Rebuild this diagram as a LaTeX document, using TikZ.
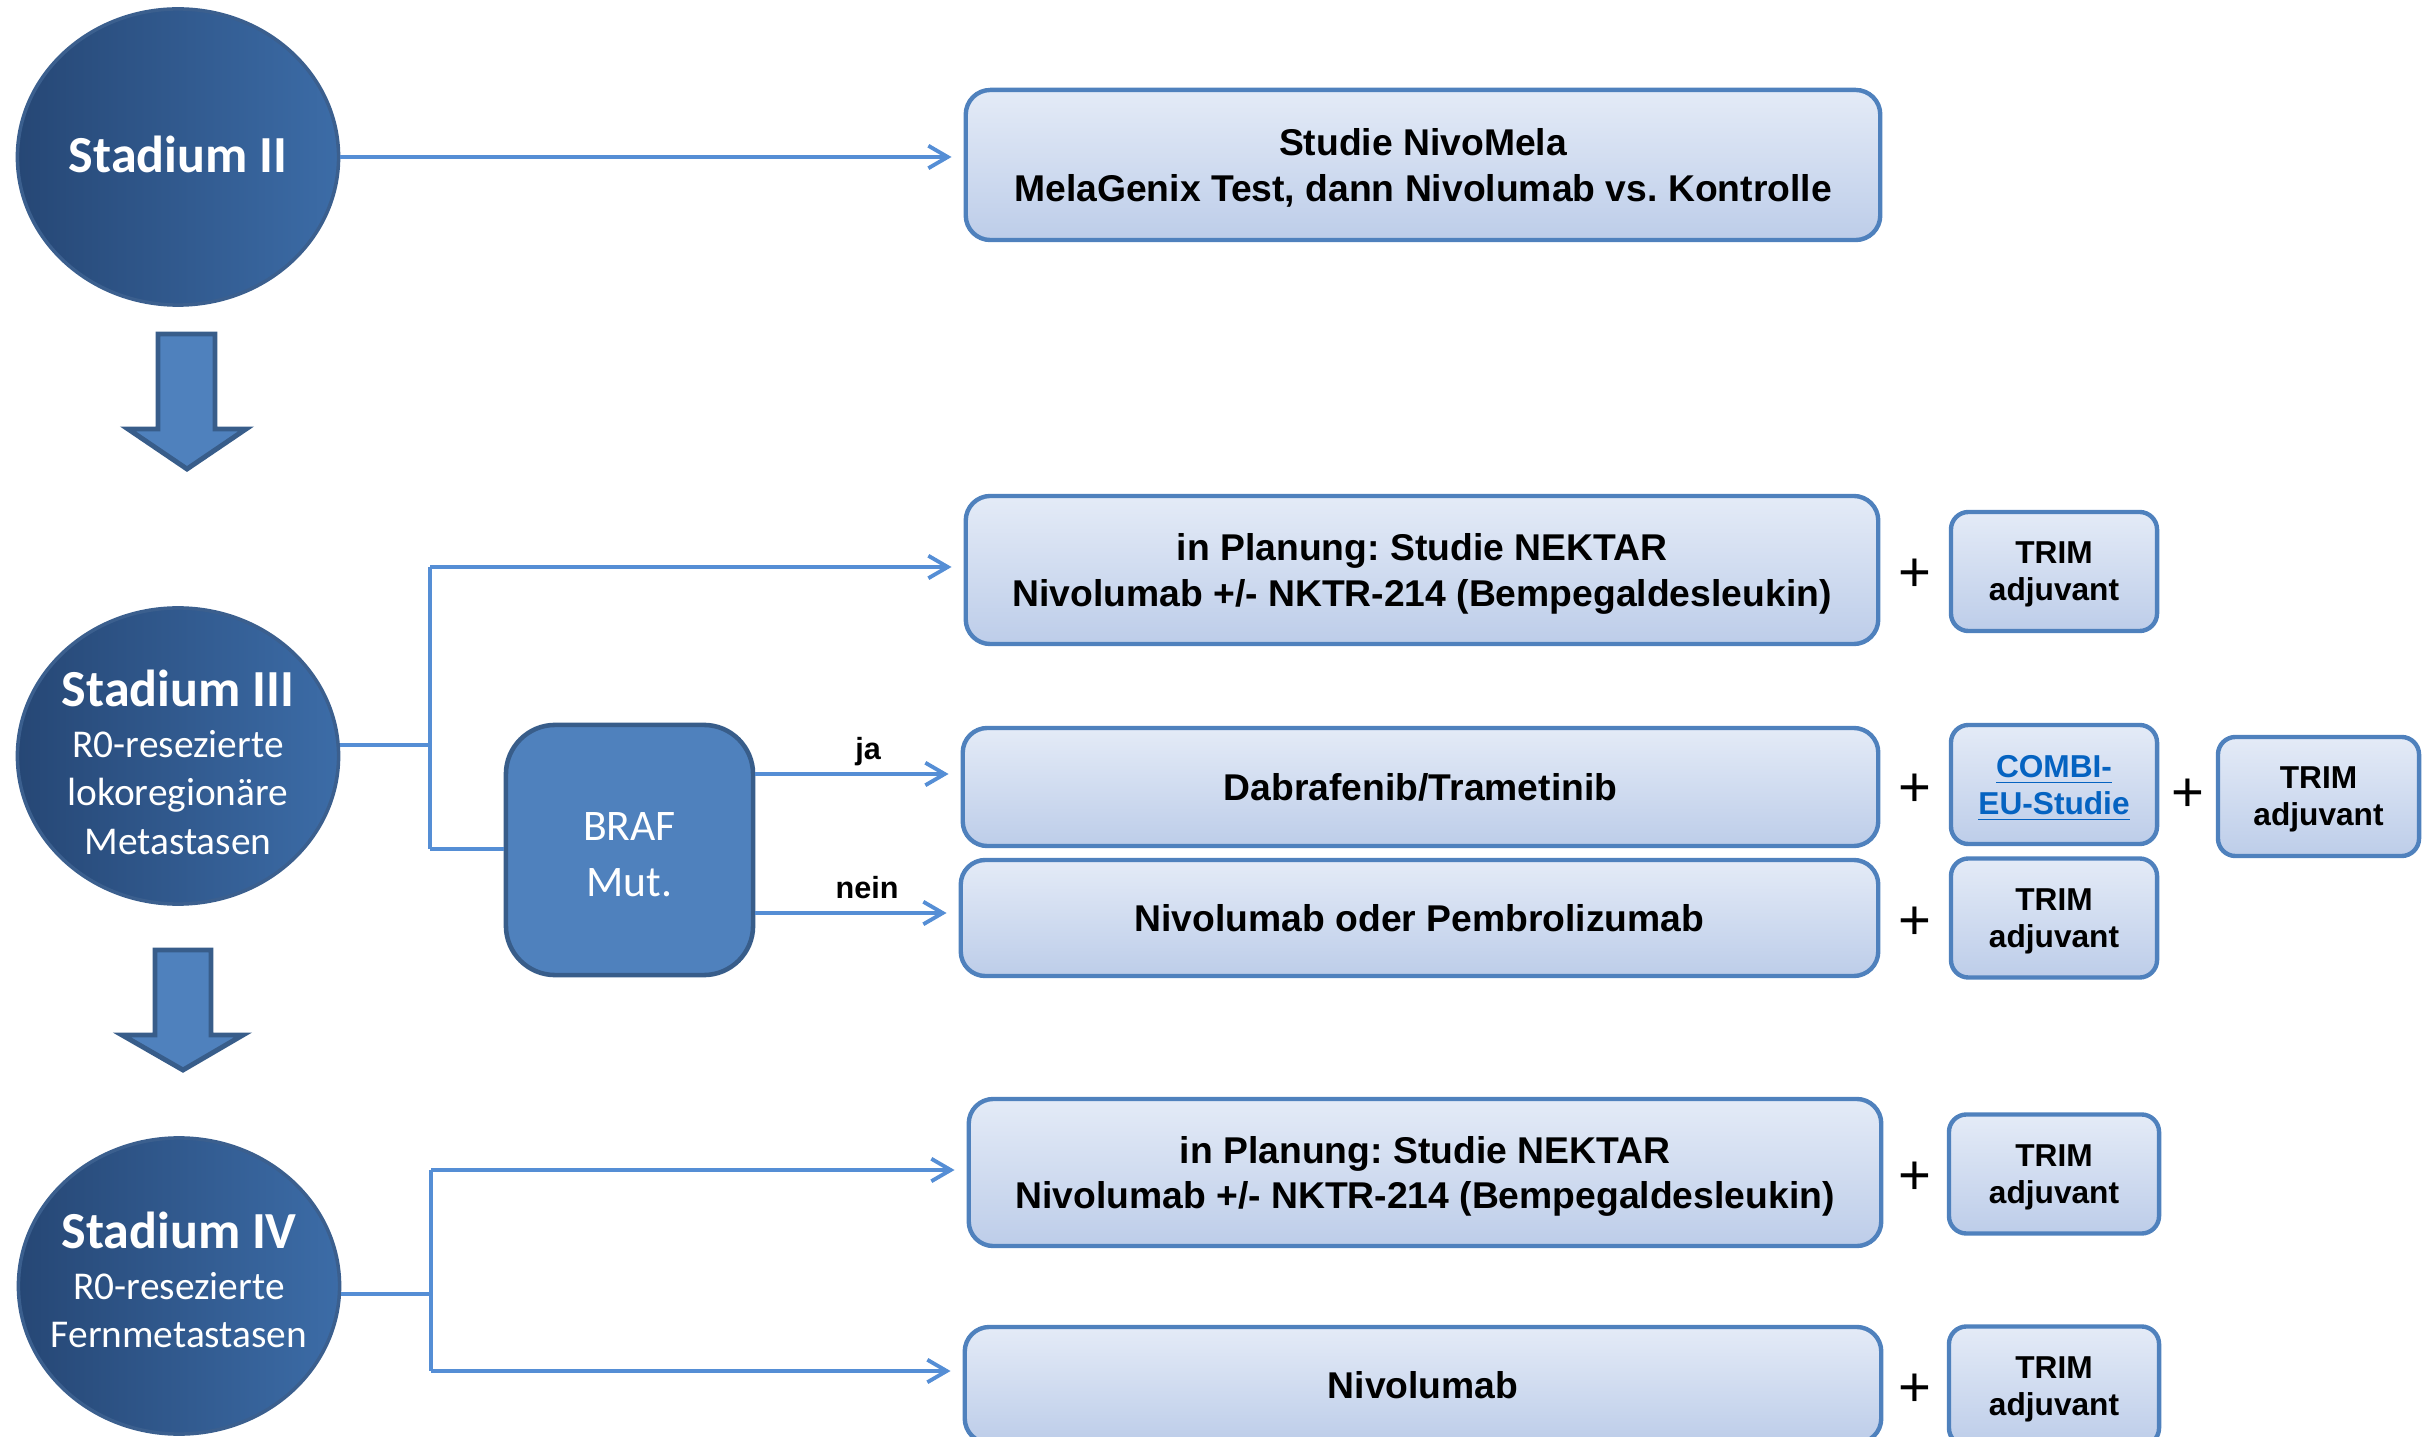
\documentclass[tikz,border=0pt]{standalone}
\usepackage{fontspec}
\setmainfont{Liberation Sans}
\newfontfamily\calibri{Carlito}
\usetikzlibrary{shapes.geometric,arrows.meta,calc}
\frenchspacing

\definecolor{linkblue}{RGB}{85,142,213}
\definecolor{boxedge}{RGB}{79,129,189}
\definecolor{boxtop}{RGB}{228,235,247}
\definecolor{boxbottom}{RGB}{189,205,233}
\definecolor{brafedge}{RGB}{56,93,138}
\definecolor{stageleft}{RGB}{38,71,117}
\definecolor{stageright}{RGB}{60,108,167}
\definecolor{stageedge}{RGB}{59,95,142}
\definecolor{hyper}{RGB}{5,99,193}

\tikzset{
    stage/.style={ellipse, draw=stageedge, line width=1pt, left color=stageleft, right color=stageright,
        text=white, minimum width=32.1mm, minimum height=29.6mm, inner xsep=-6pt, inner ysep=0pt, align=center,
        font=\calibri\fontsize{11.2}{13.8}\selectfont},
    therapy/.style={rectangle, rounded corners=7pt, draw=boxedge, line width=1.25pt,
        top color=boxtop, bottom color=boxbottom, align=center, inner sep=0pt, text depth=0pt,
        font=\bfseries\fontsize{10.6}{12.8}\selectfont},
    addon/.style={therapy, rounded corners=5pt, font=\bfseries\fontsize{9}{10.5}\selectfont,
        minimum width=20.6mm, minimum height=11.9mm},
    plussign/.style={inner sep=0pt, yshift=-1.4pt, font=\fontsize{16}{16}\selectfont},
    conn/.style={draw=linkblue, line width=1.15pt},
    linkarrow/.style={-{Straight Barb[length=5.5pt,width=6.4pt,line width=1.1pt]}, shorten >=1.2mm},
    lbl/.style={font=\bfseries\fontsize{8.7}{10}\selectfont, inner sep=0pt, text depth=0pt},
    downarrow/.style={fill=boxedge, draw=brafedge, line width=1.4pt, line join=miter},
}

\begin{document}
\begin{tikzpicture}[x=0.01cm, y=-0.01cm]
    \useasboundingbox (0,0) rectangle (2436,1437);
    \clip (0,0) rectangle (2436,1437);

    % stages
    \node[stage, font=\calibri\bfseries\fontsize{14.8}{16}\selectfont] (st2) at (178,157) {Stadium II\rule[-1.8pt]{0pt}{0pt}};
    \node[stage] (st3) at (178,756) {{\bfseries\fontsize{14.8}{16}\selectfont Stadium III\rule{0pt}{14pt}}\\[0.7pt] R0-resezierte\\ lokoregionäre\\ Metastasen};
    \node[stage] (st4) at (179,1286) {{\bfseries\fontsize{14.8}{16}\selectfont Stadium IV}\\[0.7pt] R0-resezierte\\ Fernmetastasen\rule[-3.6pt]{0pt}{0pt}};

    \draw[downarrow] (158,334) -- (215,334) -- (215,429) -- (246,429) -- (187,469) -- (128,429) -- (158,429) -- cycle;
    \draw[downarrow] (155,950) -- (211,950) -- (211,1035) -- (243,1035) -- (183,1070) -- (122,1035) -- (155,1035) -- cycle;

    \node[draw=brafedge, fill=boxedge, line width=1.3pt, rounded corners=14pt, minimum width=24.7mm,
        minimum height=25mm, text=white, align=center, font=\calibri\fontsize{12.4}{15.9}\selectfont]
        (braf) at (629.5,850) {BRAF\rule{0pt}{10.7pt}\\Mut.};

    % therapies
    \node[therapy, minimum width=91.4mm, minimum height=15mm] (nivomela) at (1423,165)
        {Studie NivoMela\\MelaGenix Test, dann Nivolumab vs. Kontrolle};

    \node[therapy, minimum width=91.2mm, minimum height=14.8mm] (nektar3) at (1422,570)
        {in Planung: Studie NEKTAR\\Nivolumab +/- NKTR-214 (Bempegaldesleukin)};
    \node[addon] (trim3a) at (2054,571.5) {TRIM\\adjuvant};

    \node[therapy, minimum width=91.5mm, minimum height=11.8mm] (dabra) at (1420.5,787) {Dabrafenib/Trametinib};
    \node[addon, text=hyper] (combi) at (2054,784.5) {\underline{COMBI-}\\\underline{EU-Studie}};
    \node[addon, minimum width=20.1mm] (trim3b) at (2318.5,796.5) {TRIM\\adjuvant};

    \node[therapy, minimum width=91.7mm, minimum height=11.6mm] (pembro) at (1419.5,918) {Nivolumab oder Pembrolizumab};
    \node[addon] (trim3c) at (2054,918) {TRIM\\adjuvant};

    \node[therapy, minimum width=91.2mm, minimum height=14.7mm] (nektar4) at (1425,1172.5)
        {in Planung: Studie NEKTAR\\Nivolumab +/- NKTR-214 (Bempegaldesleukin)};
    \node[addon, minimum width=21mm] (trim4a) at (2054,1174) {TRIM\\adjuvant};

    \node[therapy, minimum width=91.6mm, minimum height=11.6mm] (nivo4) at (1423,1385) {Nivolumab};
    \node[addon, minimum width=21mm] (trim4b) at (2054,1386) {TRIM\\adjuvant};

    % plus signs
    \node[plussign] (p1) at ($(nektar3.east)!0.5!(trim3a.west)$) {+};
    \node[plussign] (p2) at ($(dabra.east)!0.5!(combi.west)$) {+};
    \node[plussign] (p3) at ($(combi.east)!0.5!(trim3b.west)$) {+};
    \node[plussign] (p4) at ($(pembro.east)!0.5!(trim3c.west)$) {+};
    \node[plussign] (p5) at ($(nektar4.east)!0.5!(trim4a.west)$) {+};
    \node[plussign] (p6) at ($(nivo4.east)!0.5!(trim4b.west)$) {+};

    % connectors
    \draw[conn, linkarrow] (st2.east) -- (nivomela.west |- st2.east);

    \coordinate (j3) at (430,745);
    \coordinate (t3) at (430,567);
    \coordinate (b3) at (430,849);
    \coordinate (yja) at (0,774);
    \coordinate (ynein) at (0,913);
    \draw[conn] (st3.east |- j3) -- (j3);
    \draw[conn] (t3) -- (b3);
    \draw[conn, linkarrow] (t3) -- (nektar3.west |- t3);
    \draw[conn] (b3) -- (braf.west |- b3);
    \draw[conn, linkarrow] (braf.east |- yja) -- node[lbl, above=3.6pt, pos=0.55] {ja} (dabra.west |- yja);
    \draw[conn, linkarrow] (braf.east |- ynein) -- node[lbl, above=3.6pt, pos=0.55] {nein} (pembro.west |- ynein);

    \coordinate (j4) at (431,1294);
    \coordinate (t4) at (431,1170);
    \coordinate (b4) at (431,1371);
    \draw[conn] (st4.east |- j4) -- (j4);
    \draw[conn] (t4) -- (b4);
    \draw[conn, linkarrow] (t4) -- (nektar4.west |- t4);
    \draw[conn, linkarrow] (b4) -- (nivo4.west |- b4);
\end{tikzpicture}
\end{document}
